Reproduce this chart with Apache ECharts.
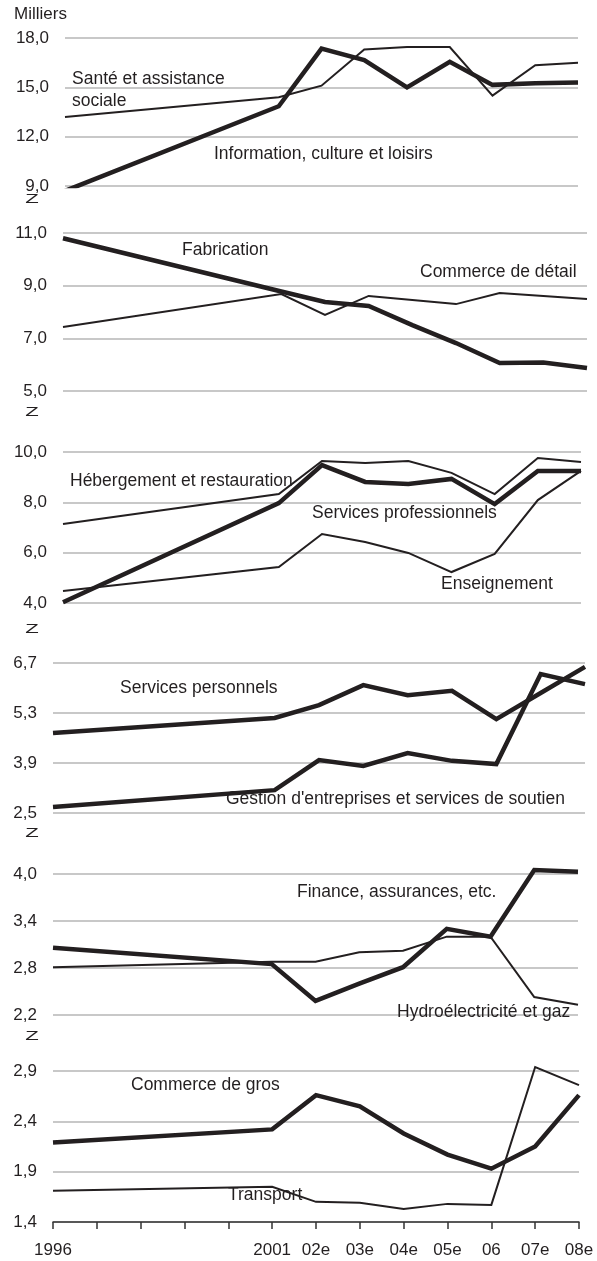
<!DOCTYPE html>
<html>
<head>
<meta charset="utf-8">
<script src="https://cdn.jsdelivr.net/npm/echarts@6/dist/echarts.min.js"></script>
<style>
  html, body { margin: 0; padding: 0; background: #fff; }
  #chart { width: 597px; height: 1261px; }
</style>
</head>
<body>
<div id="chart"></div>
<script>
// axe des x : 1996 à 2008, les années 1997-2000 ne portent pas de valeur
const years = ['1996', '1997', '1998', '1999', '2000', '2001', '02e', '03e', '04e', '05e', '06', '07e', '08e']
const hiddenYears = ['1997', '1998', '1999', '2000']
const _ = null

// panneau 1 (milliers)
const sante = [13.2, _, _, _, _, 14.4, 15.1, 17.3, 17.45, 17.45, 14.5, 16.35, 16.5]
const information = [8.7, _, _, _, _, 13.85, 17.35, 16.65, 15.0, 16.55, 15.15, 15.25, 15.3]
// panneau 2
const fabrication = [10.8, _, _, _, _, 8.78, 8.38, 8.23, 7.5, 6.82, 6.06, 6.08, 5.87]
const commerceDetail = [7.43, _, _, _, _, 8.68, 7.89, 8.61, 8.46, 8.3, 8.72, 8.61, 8.49]
// panneau 3
const hebergement = [7.14, _, _, _, _, 8.33, 9.64, 9.56, 9.64, 9.17, 8.33, 9.76, 9.6]
const servicesPro = [4.03, _, _, _, _, 7.97, 9.48, 8.81, 8.73, 8.93, 7.93, 9.25, 9.25]
const enseignement = [4.48, _, _, _, _, 5.43, 6.74, 6.42, 5.99, 5.23, 5.95, 8.09, 9.25]
// panneau 4
const servicesPerso = [4.74, _, _, _, _, 5.16, 5.52, 6.08, 5.8, 5.92, 5.13, 5.86, 6.59]
const gestion = [2.67, _, _, _, _, 3.14, 3.98, 3.82, 4.18, 3.96, 3.87, 6.39, 6.11]
// panneau 5
const finance = [3.06, _, _, _, _, 2.85, 2.38, 2.6, 2.81, 3.3, 3.2, 4.05, 4.03]
const hydro = [2.81, _, _, _, _, 2.88, 2.88, 3.0, 3.02, 3.2, 3.2, 2.43, 2.33]
// panneau 6
const commerceGros = [2.19, _, _, _, _, 2.32, 2.66, 2.55, 2.28, 2.07, 1.93, 2.15, 2.66]
const transport = [1.71, _, _, _, _, 1.75, 1.6, 1.59, 1.53, 1.58, 1.57, 2.94, 2.76]

// bornes des axes y : [min, max, pas]
const yScales = [
  [9, 18, 3],
  [5, 11, 2],
  [4, 10, 2],
  [2.5, 6.7, 1.4],
  [2.2, 4.0, 0.6],
  [1.4, 2.9, 0.5]
]

const THICK = 4.5
const THIN = 2
const INK = '#231f20'
const FONT = '"Liberation Sans", Arial, sans-serif'

const panels = [
  { grid: { left: 65, right: 19, top: 38, height: 148 }, series: [[sante, THIN, true], [information, THICK, true]] },
  { grid: { left: 63, right: 10, top: 233, height: 158 }, series: [[commerceDetail, THIN, true], [fabrication, THICK, true]] },
  { grid: { left: 63, right: 16, top: 452, height: 151 }, series: [[hebergement, THIN, true], [enseignement, THIN, true], [servicesPro, THICK, true]] },
  { grid: { left: 53, right: 12, top: 663, height: 150 }, series: [[servicesPerso, THICK, true], [gestion, THICK, true]] },
  { grid: { left: 53, right: 19, top: 874, height: 141 }, series: [[hydro, THIN, false], [finance, THICK, false]] },
  { grid: { left: 53, right: 18, top: 1071, height: 151 }, series: [[transport, THIN, false], [commerceGros, THICK, false]] }
]

const labels = [
  ['Santé et assistance', 72, 79],
  ['sociale', 72, 101],
  ['Information, culture et loisirs', 214, 154],
  ['Fabrication', 182, 250],
  ['Commerce de détail', 420, 272],
  ['Hébergement et restauration', 70, 481],
  ['Services professionnels', 312, 513],
  ['Enseignement', 441, 584],
  ['Services personnels', 120, 688],
  ["Gestion d'entreprises et services de soutien", 226, 799],
  ['Finance, assurances, etc.', 297, 892],
  ['Hydroélectricité et gaz', 397, 1012],
  ['Commerce de gros', 131, 1085],
  ['Transport', 228, 1195]
]

// symboles de coupure d'axe
const breaks = [199, 412, 629, 833, 1036]

function fmt(v) {
  return v.toFixed(1).replace('.', ',')
}

const myChart = echarts.init(document.getElementById('chart'), null, { renderer: 'canvas' })

const grid = []
const xAxis = []
const yAxis = []
const series = []

panels.forEach(function(p, i) {
  const last = i === panels.length - 1
  grid.push(p.grid)
  xAxis.push({
    type: 'category',
    gridIndex: i,
    data: years,
    boundaryGap: false,
    show: true,
    z: 5,
    axisLine: { show: last, lineStyle: { color: '#333', width: 1.5 } },
    axisTick: { show: last, length: 7, interval: 0, lineStyle: { color: '#333', width: 1.5 } },
    axisLabel: {
      show: last,
      interval: 0,
      margin: 20,
      fontSize: 17,
      fontFamily: FONT,
      color: INK,
      formatter: function(v) {
        return hiddenYears.indexOf(v) >= 0 ? '' : v
      }
    },
    splitLine: { show: false }
  })
  const s = yScales[i]
  yAxis.push({
    type: 'value',
    gridIndex: i,
    min: s[0],
    max: s[1],
    interval: s[2],
    axisLine: { show: false },
    axisTick: { show: false },
    axisLabel: {
      margin: 16,
      fontSize: 17,
      fontFamily: FONT,
      color: INK,
      formatter: fmt
    },
    splitLine: { lineStyle: { color: '#c8c8c8', width: 2 } }
  })
  p.series.forEach(function(d) {
    series.push({
      type: 'line',
      xAxisIndex: i,
      yAxisIndex: i,
      data: d[0],
      connectNulls: true,
      showSymbol: false,
      clip: d[2],
      lineStyle: { color: INK, width: d[1], join: 'miter' },
      z: d[1] > 3 ? 4 : 3
    })
  })
})

const graphic = [{
  type: 'text',
  x: 14,
  y: 14,
  z: 10,
  style: { text: 'Milliers', font: '17px ' + FONT, fill: INK, verticalAlign: 'middle' }
}].concat(labels.map(function(l) {
  return {
    type: 'text',
    x: l[1],
    y: l[2],
    z: 10,
    style: {
      text: l[0],
      font: '17.5px ' + FONT,
      fill: INK,
      verticalAlign: 'middle'
    }
  }
})).concat(breaks.map(function(y) {
  return {
    type: 'text',
    x: 32,
    y: y,
    z: 10,
    scaleX: 1.3,
    scaleY: 0.8,
    style: {
      text: 'Z',
      font: '17px ' + FONT,
      fill: INK,
      align: 'center',
      verticalAlign: 'middle'
    }
  }
}))

const options = {
  animation: false,
  backgroundColor: '#fff',
  grid: grid,
  xAxis: xAxis,
  yAxis: yAxis,
  series: series,
  graphic: graphic
}

myChart.setOption(options)
</script>
</body>
</html>
